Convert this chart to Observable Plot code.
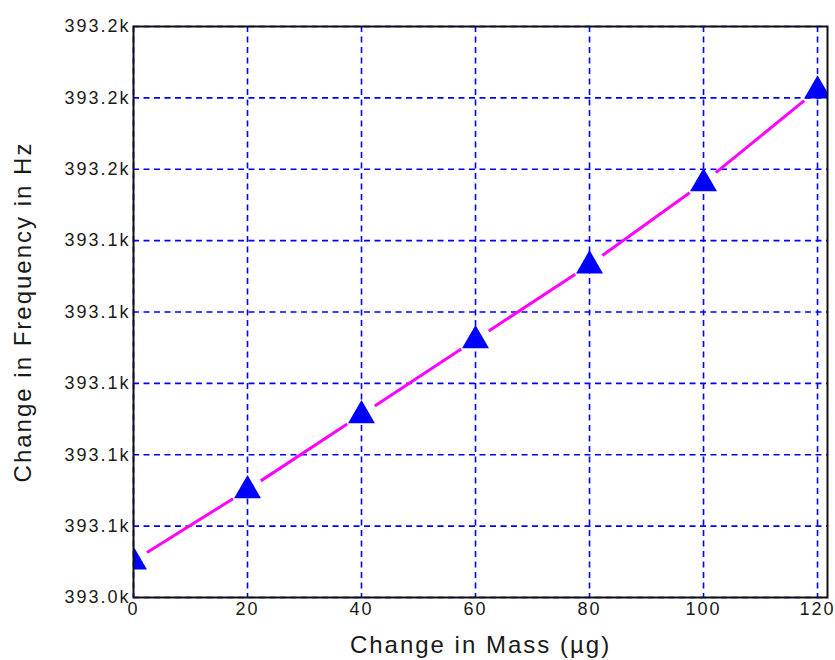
<!DOCTYPE html>
<html>
<head>
<meta charset="utf-8">
<script src="https://cdn.jsdelivr.net/npm/d3@7"></script>
<script src="https://cdn.jsdelivr.net/npm/@observablehq/plot@0.6"></script>
<style>
  html, body { margin: 0; padding: 0; background: #fff; }
  #chart svg text { letter-spacing: 2px; }
</style>
</head>
<body>
<div id="chart"></div>
<script>
// Data
const masses = [0, 20, 40, 60, 80, 100, 120];          // Change in Mass (µg)
const freqs = [393050, 393070, 393091, 393112, 393133, 393156, 393182]; // Hz
const xTicks = [0, 20, 40, 60, 80, 100, 120];
const yTicks = [393040, 393060, 393080, 393100, 393120, 393140, 393160, 393180, 393200];
const xTitle = "Change in Mass (µg)";
const yTitle = "Change in Frequency in Hz";

const points = masses.map((m, i) => ({ m, f: freqs[i] }));
const segments = points.slice(0, -1).map((p, i) => ({
  m1: p.m, f1: p.f, m2: points[i + 1].m, f2: points[i + 1].f
}));

const trim = 16.5;
function gappedSegments(index, scales, values, dimensions, context, next) {
  const g = d3.create("svg:g");
  for (const i of index) {
    const x1 = values.x1[i], y1 = values.y1[i], x2 = values.x2[i], y2 = values.y2[i];
    const dx = x2 - x1, dy = y2 - y1, len = Math.hypot(dx, dy);
    const ux = dx / len, uy = dy / len;
    g.append("line")
      .attr("x1", x1 + ux * trim).attr("y1", y1 + uy * trim)
      .attr("x2", x2 - ux * trim).attr("y2", y2 - uy * trim)
      .attr("stroke", "#ff00ff").attr("stroke-width", 3)
      .attr("stroke-linecap", "butt");
  }
  return g.node();
}

const chart = Plot.plot({
  width: 835,
  height: 660,
  marginLeft: 133,
  marginRight: 8,
  marginTop: 26,
  marginBottom: 63,
  style: { fontFamily: "'Liberation Sans', Arial, sans-serif", fontSize: "18px", color: "#1a1a1a", background: "#fff" },
  x: { domain: [0, 121.75], ticks: xTicks, label: null },
  y: { domain: [393040, 393200], ticks: yTicks, label: null },
  marks: [
    Plot.gridX(xTicks, { stroke: "#0000ff", strokeOpacity: 1, strokeWidth: 1.6, strokeDasharray: "6,4.5" }),
    Plot.gridY(yTicks, { stroke: "#0000ff", strokeOpacity: 1, strokeWidth: 1.6, strokeDasharray: "6,4.5" }),
    Plot.axisX(xTicks, { tickSize: 0, tickPadding: 5, fontSize: 18, label: null }),
    Plot.axisY(yTicks, { tickSize: 0, tickPadding: 3, fontSize: 18, label: null,
      tickFormat: d => (d / 1000).toFixed(1) + "k" }),
    Plot.link(segments, { x1: "m1", y1: "f1", x2: "m2", y2: "f2", stroke: "#ff00ff", strokeWidth: 3, render: gappedSegments }),
    Plot.dot(points, { x: "m", y: "f", symbol: "triangle", r: 10, fill: "#0000ff", stroke: "none", clip: "frame" }),
    Plot.frame({ stroke: "#111", strokeWidth: 2 }),
    Plot.text([yTitle], { frameAnchor: "left", dx: -110, rotate: -90, fontSize: 24, fill: "#1a1a1a", textAnchor: "middle" }),
    Plot.text([xTitle], { frameAnchor: "bottom", dy: 55, fontSize: 24, fill: "#1a1a1a", textAnchor: "middle" })
  ]
});
document.getElementById("chart").appendChild(chart);
</script>
</body>
</html>
